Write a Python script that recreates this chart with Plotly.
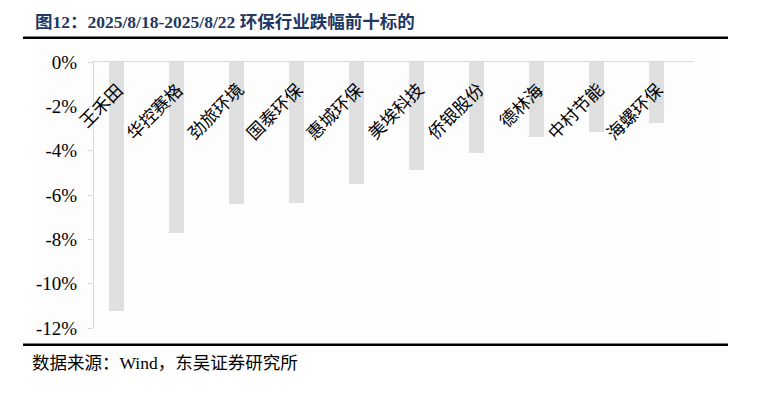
import plotly.graph_objects as go

categories = ["王禾田", "华控赛格", "劲旅环境", "国泰环保", "惠城环保",
              "美埃科技", "侨银股份", "德林海", "中村节能", "海螺环保"]
values = [-11.25, -7.71, -6.39, -6.38, -5.49, -4.89, -4.12, -3.40, -3.17, -2.77]
tick_vals = [0, -2, -4, -6, -8, -10, -12]
tick_text = ["0%", "-2%", "-4%", "-6%", "-8%", "-10%", "-12%"]
title_text = "图12：2025/8/18-2025/8/22 环保行业跌幅前十标的"
source_text = "数据来源：Wind，东吴证券研究所"

W, H = 764, 410
L, R, T, B = 94, 694, 62.3, 328.3

def px_x(px):
    return (px - L) / (R - L)

def px_y(py):
    return 1 - (py - T) / (B - T)

SERIF = "Liberation Serif, Times New Roman, Noto Sans CJK SC, serif"
CJK = "Noto Sans CJK SC, sans-serif"

fig = go.Figure()
fig.add_trace(go.Bar(
    x=list(range(len(categories))), y=values,
    width=0.25, offset=-0.25,
    marker=dict(color="#DFDFDF", line=dict(width=0)),
    hoverinfo="skip",
))

annotations = []
for i, name in enumerate(categories):
    annotations.append(dict(
        x=i + 0.12, y=-0.55, xref="x", yref="y",
        text=name, showarrow=False, textangle=-45,
        xanchor="right", yanchor="top",
        font=dict(family=CJK, size=17.5, color="#000000"),
    ))

annotations.append(dict(
    x=px_x(33), y=px_y(22), xref="paper", yref="paper",
    text="<b>" + title_text + "</b>", showarrow=False,
    xanchor="left", yanchor="middle",
    font=dict(family=SERIF, size=17.5, color="#1F3864"),
))
annotations.append(dict(
    x=px_x(30), y=px_y(363), xref="paper", yref="paper",
    text=source_text, showarrow=False,
    xanchor="left", yanchor="middle",
    font=dict(family=SERIF, size=17.5, color="#000000"),
))

shapes = [
    dict(type="rect", xref="paper", yref="paper", layer="below",
         x0=px_x(33), x1=px_x(718), y0=px_y(338), y1=px_y(43),
         fillcolor="#FDFDFD", line=dict(width=0)),
    dict(type="line", xref="paper", yref="paper",
         x0=px_x(23), x1=px_x(728), y0=px_y(38), y1=px_y(38),
         line=dict(color="#000000", width=2.5)),
    dict(type="line", xref="paper", yref="paper",
         x0=px_x(23), x1=px_x(728), y0=px_y(345), y1=px_y(345),
         line=dict(color="#000000", width=2.5)),
]

fig.update_layout(
    width=W, height=H,
    margin=dict(l=L, r=W - R, t=T, b=H - B, pad=0),
    paper_bgcolor="white", plot_bgcolor="rgba(0,0,0,0)",
    showlegend=False,
    annotations=annotations,
    shapes=shapes,
    bargap=0,
    xaxis=dict(
        range=[-0.5, len(categories) - 0.5],
        showticklabels=False, ticks="", showgrid=False, zeroline=False,
        showline=True, linecolor="#D9D9D9", linewidth=1.3, side="top",
        fixedrange=True,
    ),
    yaxis=dict(
        range=[-12, 0], tickvals=tick_vals, ticktext=tick_text,
        showgrid=False, zeroline=False,
        showline=True, linecolor="#D9D9D9", linewidth=1.3,
        ticks="outside", ticklen=5, tickcolor="#D9D9D9", tickwidth=1.3,
        ticklabelstandoff=7,
        tickfont=dict(family=SERIF, size=19, color="#000000"),
        fixedrange=True,
    ),
)

fig.write_html(
    "out.html",
    config={"displayModeBar": False},
    post_script="document.body.style.margin='0';document.body.style.padding='0';",
)
